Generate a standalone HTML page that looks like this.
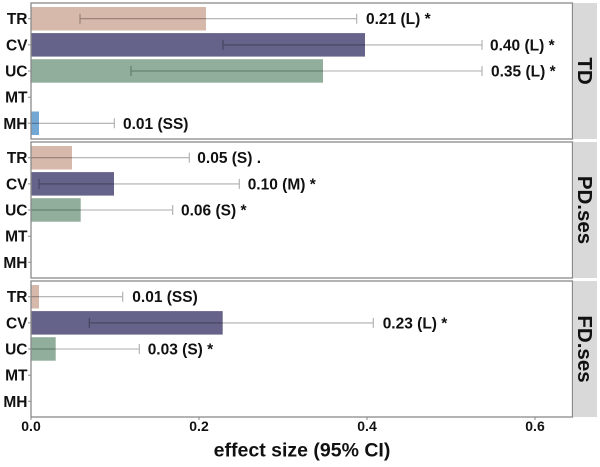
<!DOCTYPE html>
<html>
<head>
<meta charset="utf-8">
<style>
  html, body { margin:0; padding:0; background:#ffffff; }
  svg { display:block; }
  text { font-family: "Liberation Sans", Arial, sans-serif; font-weight:bold; fill:#111; }
  .yl { font-size:15.5px; text-anchor:end; }
  .vl { font-size:15.5px; }
  .strip { font-size:20.5px; text-anchor:middle; }
  .xt { font-size:14px; text-anchor:middle; }
  .err { stroke:rgba(0,0,0,0.32); stroke-width:1.1; fill:none; }
</style>
</head>
<body>
<svg width="600" height="467" viewBox="0 0 600 467" xmlns="http://www.w3.org/2000/svg">
  <rect x="0" y="0" width="600" height="467" fill="#ffffff"/>

  <!-- ================= Panel 1 (TD) ================= -->
  <!-- rows: 18.7, 44.9, 71.0, 97.2, 123.3 -->
  <rect x="31" y="7" width="175" height="23.5" fill="#d7b9ab"/>
  <rect x="31" y="33.1" width="334" height="23.5" fill="#65638a"/>
  <rect x="31" y="59.2" width="292" height="23.5" fill="#90ae9b"/>
  <rect x="31" y="111.5" width="8" height="23.5" fill="#73a7d4"/>
  <!-- error bars -->
  <path class="err" d="M80 18.7H356.7 M80 13.7V23.7 M356.7 13.7V23.7"/>
  <path class="err" d="M223 44.9H482 M223 39.9V49.9 M482 39.9V49.9"/>
  <path class="err" d="M131 71H482 M131 66V76 M482 66V76"/>
  <path class="err" d="M31 123.3H114.3 M114.3 118.3V128.3"/>
  <text class="vl" x="366" y="24.2">0.21 (L) *</text>
  <text class="vl" x="490" y="50.4">0.40 (L) *</text>
  <text class="vl" x="491" y="76.5">0.35 (L) *</text>
  <text class="vl" x="123" y="128.8">0.01 (SS)</text>
  <rect x="31" y="3" width="541.5" height="136" fill="none" stroke="#8a8a8a" stroke-width="1.3"/>
  <!-- y ticks -->
  <path d="M28 18.7H31 M28 44.9H31 M28 71H31 M28 97.2H31 M28 123.3H31" stroke="#8a8a8a" stroke-width="1"/>
  <text class="yl" x="27.5" y="24.2">TR</text>
  <text class="yl" x="27.5" y="50.4">CV</text>
  <text class="yl" x="27.5" y="76.5">UC</text>
  <text class="yl" x="27.5" y="102.7">MT</text>
  <text class="yl" x="27.5" y="128.8">MH</text>
  <!-- strip -->
  <rect x="573" y="3" width="24" height="136" fill="#d9d9d9"/>
  <text class="strip" transform="translate(585,71) rotate(90)" y="7">TD</text>

  <!-- ================= Panel 2 (PD.ses) ================= -->
  <!-- rows: 157.7, 183.9, 210.0, 236.2, 262.3 -->
  <rect x="31" y="146" width="41" height="23.5" fill="#d7b9ab"/>
  <rect x="31" y="172.1" width="83" height="23.5" fill="#65638a"/>
  <rect x="31" y="198.2" width="49.7" height="23.5" fill="#90ae9b"/>
  <path class="err" d="M31 157.7H189.3 M189.3 152.7V162.7"/>
  <path class="err" d="M39 183.9H239.3 M39 178.9V188.9 M239.3 178.9V188.9"/>
  <path class="err" d="M31 210H172.7 M172.7 205V215"/>
  <text class="vl" x="197.3" y="163.2">0.05 (S) .</text>
  <text class="vl" x="247.7" y="189.4">0.10 (M) *</text>
  <text class="vl" x="181" y="215.5">0.06 (S) *</text>
  <rect x="31" y="142" width="541.5" height="136" fill="none" stroke="#8a8a8a" stroke-width="1.3"/>
  <path d="M28 157.7H31 M28 183.9H31 M28 210H31 M28 236.2H31 M28 262.3H31" stroke="#8a8a8a" stroke-width="1"/>
  <text class="yl" x="27.5" y="163.2">TR</text>
  <text class="yl" x="27.5" y="189.4">CV</text>
  <text class="yl" x="27.5" y="215.5">UC</text>
  <text class="yl" x="27.5" y="241.7">MT</text>
  <text class="yl" x="27.5" y="267.8">MH</text>
  <rect x="573" y="142" width="24" height="136" fill="#d9d9d9"/>
  <text class="strip" transform="translate(585,210) rotate(90)" y="7">PD.ses</text>

  <!-- ================= Panel 3 (FD.ses) ================= -->
  <!-- rows: 296.7, 322.9, 349.0, 375.2, 401.3 -->
  <rect x="31" y="285" width="8" height="23.5" fill="#d7b9ab"/>
  <rect x="31" y="311.1" width="191.7" height="23.5" fill="#65638a"/>
  <rect x="31" y="337.2" width="24.7" height="23.5" fill="#90ae9b"/>
  <path class="err" d="M31 296.7H122.7 M122.7 291.7V301.7"/>
  <path class="err" d="M89.3 322.9H373.3 M89.3 317.9V327.9 M373.3 317.9V327.9"/>
  <path class="err" d="M31 349H139.3 M139.3 344V354"/>
  <text class="vl" x="132.3" y="302.2">0.01 (SS)</text>
  <text class="vl" x="382.7" y="328.4">0.23 (L) *</text>
  <text class="vl" x="147.7" y="354.5">0.03 (S) *</text>
  <rect x="31" y="281" width="541.5" height="136" fill="none" stroke="#8a8a8a" stroke-width="1.3"/>
  <path d="M28 296.7H31 M28 322.9H31 M28 349H31 M28 375.2H31 M28 401.3H31" stroke="#8a8a8a" stroke-width="1"/>
  <text class="yl" x="27.5" y="302.2">TR</text>
  <text class="yl" x="27.5" y="328.4">CV</text>
  <text class="yl" x="27.5" y="354.5">UC</text>
  <text class="yl" x="27.5" y="380.7">MT</text>
  <text class="yl" x="27.5" y="406.8">MH</text>
  <rect x="573" y="281" width="24" height="136" fill="#d9d9d9"/>
  <text class="strip" transform="translate(585,349) rotate(90)" y="7">FD.ses</text>

  <!-- ================= X axis ================= -->
  <path d="M31 417V420 M199 417V420 M367 417V420 M535 417V420" stroke="#8a8a8a" stroke-width="1"/>
  <text class="xt" x="31" y="431">0.0</text>
  <text class="xt" x="199" y="431">0.2</text>
  <text class="xt" x="367" y="431">0.4</text>
  <text class="xt" x="535" y="431">0.6</text>
  <text x="302" y="456.5" text-anchor="middle" style="font-size:19.5px">effect size (95% CI)</text>
</svg>
</body>
</html>
